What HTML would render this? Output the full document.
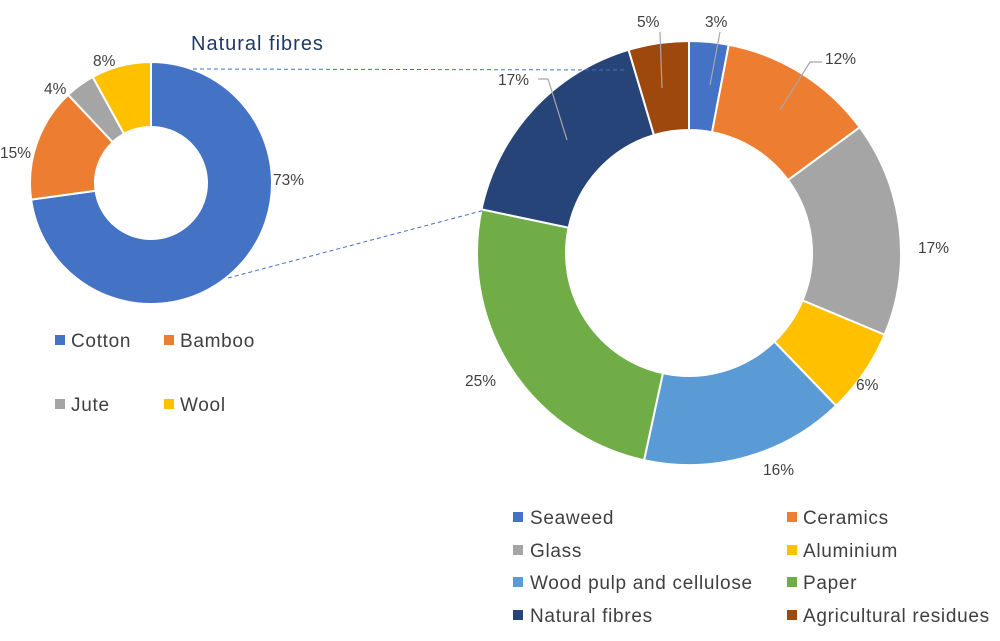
<!DOCTYPE html>
<html><head><meta charset="utf-8"><style>
body{margin:0;background:#fff;}
svg text{font-family:"Liberation Sans",sans-serif;fill:#404040;}
</style></head><body>
<svg id="s" width="1000" height="636" viewBox="0 0 1000 636" xmlns="http://www.w3.org/2000/svg">
<g id="donuts"></g>
<line x1="193" y1="69" x2="627" y2="70" stroke="#4472C4" stroke-width="1" stroke-dasharray="4,3"/>
<line x1="228" y1="278" x2="485" y2="210" stroke="#4472C4" stroke-width="1" stroke-dasharray="4,3"/>
<g stroke="#A6A6A6" stroke-width="1.2" fill="none">
<polyline points="720,32 710,85"/>
<polyline points="660,32 662,88"/>
<polyline points="822,62 810,62 780,110"/>
<polyline points="538,79 548,79 567,140"/>
</g>
<text x="191" y="50" font-size="20" letter-spacing="1" style="fill:#1F3864">Natural fibres</text>
<g font-size="15.5">
<text x="93" y="66">8%</text>
<text x="44" y="94">4%</text>
<text x="0" y="158">15%</text>
<text x="273" y="185">73%</text>
<text x="705" y="27">3%</text>
<text x="637" y="27">5%</text>
<text x="825" y="64">12%</text>
<text x="498" y="85">17%</text>
<text x="918" y="253">17%</text>
<text x="856" y="390">6%</text>
<text x="763" y="475">16%</text>
<text x="465" y="386">25%</text>
</g>
<g font-size="19" letter-spacing="0.7">
<rect x="55" y="335" width="10" height="10" fill="#4472C4"/><text x="71" y="347">Cotton</text>
<rect x="164" y="335" width="10" height="10" fill="#ED7D31"/><text x="180" y="347">Bamboo</text>
<rect x="55" y="399" width="10" height="10" fill="#A5A5A5"/><text x="71" y="411">Jute</text>
<rect x="164" y="399" width="10" height="10" fill="#FFC000"/><text x="180" y="411">Wool</text>
<rect x="513" y="512" width="10" height="10" fill="#4472C4"/><text x="530" y="524">Seaweed</text>
<rect x="787" y="512" width="10" height="10" fill="#ED7D31"/><text x="803" y="524">Ceramics</text>
<rect x="513" y="545" width="10" height="10" fill="#A5A5A5"/><text x="530" y="557">Glass</text>
<rect x="787" y="545" width="10" height="10" fill="#FFC000"/><text x="803" y="557">Aluminium</text>
<rect x="513" y="577" width="10" height="10" fill="#5B9BD5"/><text x="530" y="589">Wood pulp and cellulose</text>
<rect x="787" y="577" width="10" height="10" fill="#70AD47"/><text x="803" y="589">Paper</text>
<rect x="513" y="610" width="10" height="10" fill="#264478"/><text x="530" y="622">Natural fibres</text>
<rect x="787" y="610" width="10" height="10" fill="#9E480E"/><text x="803" y="622">Agricultural residues</text>
</g>
</svg>
<script>
function donut(cx,cy,R,r,cum,cols){
 var g=document.getElementById('donuts'),p=0,h='';
 for(var i=0;i<cum.length;i++){
  var a0=p/100*2*Math.PI,a1=cum[i]/100*2*Math.PI;p=cum[i];
  var large=(a1-a0)>Math.PI?1:0;
  function pt(rad,a){return (cx+rad*Math.sin(a)).toFixed(2)+','+(cy-rad*Math.cos(a)).toFixed(2);}
  h+='<path d="M'+pt(R,a0)+' A'+R+','+R+' 0 '+large+' 1 '+pt(R,a1)+' L'+pt(r,a1)+' A'+r+','+r+' 0 '+large+' 0 '+pt(r,a0)+' Z" fill="'+cols[i]+'" stroke="#fff" stroke-width="2"/>';
 }
 g.innerHTML+=h;
}
donut(151,183,121,56,[72.8,88,92,100],['#4472C4','#ED7D31','#A5A5A5','#FFC000']);
donut(689,253,212,123,[3,14.9,31.3,37.8,53.4,78.3,95.4,100],['#4472C4','#ED7D31','#A5A5A5','#FFC000','#5B9BD5','#70AD47','#264478','#9E480E']);
</script>
</body></html>
